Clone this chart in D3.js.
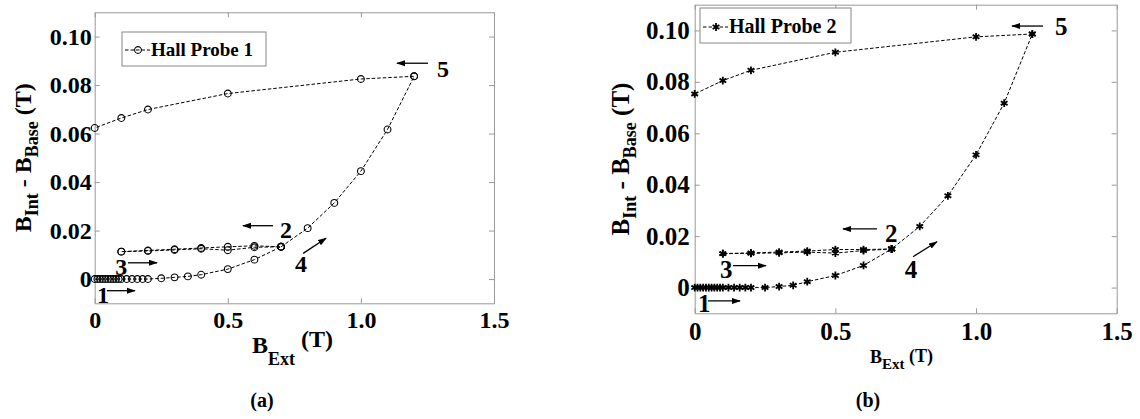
<!DOCTYPE html>
<html>
<head>
<meta charset="utf-8">
<script src="https://cdn.jsdelivr.net/npm/d3@7"></script>
<style>
body { margin: 0; background: #fff; }
svg { display: block; }
text { font-family: "Liberation Serif", "Times New Roman", serif; font-weight: bold; fill: #000; }
</style>
</head>
<body>
<svg id="chart" width="1140" height="419"></svg>
<script>
// B_Ext (T) at each step of the five legs of the loop
var bExtLeg1 = [0, 0.01, 0.02, 0.03, 0.04, 0.05, 0.06, 0.07, 0.08, 0.09, 0.1,
    0.12, 0.14, 0.16, 0.18, 0.2, 0.25, 0.3, 0.35, 0.4, 0.5, 0.6, 0.7];
var bExtLeg2 = [0.7, 0.6, 0.5, 0.4, 0.3, 0.2, 0.1];
var bExtLeg3 = [0.1, 0.2, 0.3, 0.4, 0.5, 0.6, 0.7];
var bExtLeg4 = [0.7, 0.8, 0.9, 1.0, 1.1, 1.2];
var bExtLeg5 = [1.2, 1.0, 0.5, 0.2, 0.1, 0];

// B_Int - B_Base (T), Hall probe 1
var probe1Leg1 = [0, 0, 0, 0, 0, 0, 0, 0, 0, 0, 0,
    0, 0, 0, 0, 0, 0.0003, 0.0007, 0.0011, 0.0018, 0.0041, 0.0080, 0.0133];
var probe1Leg2 = [0.0133, 0.0137, 0.0133, 0.0128, 0.0123, 0.0118, 0.0113];
var probe1Leg3 = [0.0113, 0.0116, 0.0120, 0.0125, 0.0119, 0.0131, 0.0133];
var probe1Leg4 = [0.0133, 0.0210, 0.0314, 0.0445, 0.0617, 0.0836];
var probe1Leg5 = [0.0836, 0.0825, 0.0765, 0.0699, 0.0664, 0.0623];

// B_Int - B_Base (T), Hall probe 2
var probe2Leg1 = [0, 0, 0, 0, 0, 0, 0, 0, 0, 0, 0,
    0, 0, 0, 0, 0, 0, 0.0004, 0.0009, 0.0023, 0.0047, 0.0086, 0.0150];
var probe2Leg2 = [0.0150, 0.0148, 0.0148, 0.0142, 0.0138, 0.0135, 0.0132];
var probe2Leg3 = [0.0132, 0.0133, 0.0135, 0.0138, 0.0134, 0.0144, 0.0150];
var probe2Leg4 = [0.0150, 0.0238, 0.0357, 0.0516, 0.0717, 0.0986];
var probe2Leg5 = [0.0986, 0.0975, 0.0915, 0.0845, 0.0805, 0.0753];

var xTicks = [0, 0.5, 1.0, 1.5];
var xTickLabels = ["0", "0.5", "1.0", "1.5"];
var yTicks = [0, 0.02, 0.04, 0.06, 0.08, 0.10];
var yTickLabels = ["0", "0.02", "0.04", "0.06", "0.08", "0.10"];
var stepNames = ["1", "2", "3", "4", "5"];
var seriesNames = ["Hall Probe 1", "Hall Probe 2"];
var panelNames = ["(a)", "(b)"];

function joinLegs(xLegs, yLegs) {
    var pts = [];
    xLegs.forEach(function (xs, i) {
        xs.forEach(function (x, j) { pts.push({ x: x, y: yLegs[i][j] }); });
    });
    return pts;
}

var svg = d3.select("#chart");
svg.append("defs").append("marker")
    .attr("id", "head")
    .attr("markerUnits", "userSpaceOnUse")
    .attr("markerWidth", 9).attr("markerHeight", 7)
    .attr("refX", 8).attr("refY", 3.5)
    .attr("orient", "auto")
    .append("path").attr("d", "M0,0.5 L9,3.5 L0,6.5 Z").attr("fill", "#000");

var HallPlot = (function () {
    function HallPlot(opts) {
        this.o = opts;
        this.x = d3.scaleLinear().domain([0, 1.5]).range([opts.left, opts.right]);
        this.y = d3.scaleLinear().domain([-0.01, 0.11]).range([opts.bottom, opts.top]);
        this.g = svg.append("g");
    }
    HallPlot.prototype.drawAxes = function () {
        var o = this.o, g = this.g;
        var fmtX = function (d, i) { return xTickLabels[i]; };
        var fmtY = function (d, i) { return yTickLabels[i]; };
        var axes = [
            { ax: d3.axisBottom(this.x).tickValues(xTicks).tickFormat(fmtX).tickPadding(o.xPad), t: "translate(0," + o.bottom + ")" },
            { ax: d3.axisTop(this.x).tickValues(xTicks).tickFormat(""), t: "translate(0," + o.top + ")" },
            { ax: d3.axisLeft(this.y).tickValues(yTicks).tickFormat(fmtY).tickPadding(o.yPad), t: "translate(" + o.left + ",0)" },
            { ax: d3.axisRight(this.y).tickValues(yTicks).tickFormat(""), t: "translate(" + o.right + ",0)" }
        ];
        axes.forEach(function (a) {
            var s = g.append("g").attr("transform", a.t)
                .call(a.ax.tickSizeInner(-5).tickSizeOuter(0));
            s.select(".domain").attr("stroke", "#999");
            s.selectAll(".tick line").attr("stroke", "#999");
            s.selectAll(".tick text")
                .attr("font-family", "Liberation Serif, serif")
                .attr("font-weight", "bold")
                .attr("font-size", o.tickFont).attr("fill", "#000");
        });
    };
    HallPlot.prototype.drawLabels = function () {
        var o = this.o, g = this.g;
        var yl = g.append("text")
            .attr("transform", "translate(" + o.yLabelX + "," + ((o.top + o.bottom) / 2) + ") rotate(-90)")
            .attr("text-anchor", "middle").attr("font-size", o.yLabelFont);
        yl.append("tspan").text("B");
        yl.append("tspan").text("Int").attr("font-size", o.ySubFont).attr("dy", 7);
        yl.append("tspan").text(" - B").attr("dy", -7);
        yl.append("tspan").text("Base").attr("font-size", o.ySubFont).attr("dy", 7);
        yl.append("tspan").text(" (T)").attr("dy", -7);

        var xl = g.append("text")
            .attr("x", o.xLabelX).attr("y", o.xLabelY).attr("font-size", o.xLabelFont);
        xl.append("tspan").text("B");
        xl.append("tspan").text("Ext").attr("font-size", o.xSubFont).attr("dy", o.xSubDy);
        xl.append("tspan").text(" (T)").attr("dy", o.xTDy);

        g.append("text").attr("x", o.panelX).attr("y", o.panelY)
            .attr("text-anchor", "middle").attr("font-size", 20).text(o.panel);
    };
    HallPlot.prototype.drawMarker = function (sel) {
        if (this.o.marker === "circle") {
            sel.append("circle").attr("r", 3.4)
                .attr("fill", "none").attr("stroke", "#000").attr("stroke-width", 1.1);
        } else {
            sel.append("path").attr("d", d3.symbol(d3.symbolAsterisk, 42)())
                .attr("fill", "none").attr("stroke", "#000").attr("stroke-width", 1.8);
        }
    };
    HallPlot.prototype.renderGraph = function (data) {
        var _this = this;
        var line = d3.line()
            .x(function (d) { return _this.x(d.x); })
            .y(function (d) { return _this.y(d.y); });
        this.g.append("path").datum(data)
            .attr("d", line)
            .attr("fill", "none").attr("stroke", "#000")
            .attr("stroke-width", 1).attr("stroke-dasharray", "3.5,2");
        var pts = this.g.selectAll("g.pt").data(data).enter().append("g")
            .attr("class", "pt")
            .attr("transform", function (d) { return "translate(" + _this.x(d.x) + "," + _this.y(d.y) + ")"; });
        this.drawMarker(pts);
    };
    HallPlot.prototype.drawSteps = function () {
        var _this = this, o = this.o;
        o.steps.forEach(function (s, i) {
            _this.g.append("text")
                .attr("x", _this.x(s.tx)).attr("y", _this.y(s.ty))
                .attr("font-size", o.stepFont).text(stepNames[i]);
            _this.g.append("line")
                .attr("x1", _this.x(s.a[0])).attr("y1", _this.y(s.a[1]))
                .attr("x2", _this.x(s.a[2])).attr("y2", _this.y(s.a[3]))
                .attr("stroke", "#000").attr("stroke-width", 1.3)
                .attr("marker-end", "url(#head)");
        });
    };
    HallPlot.prototype.drawLegend = function () {
        var o = this.o, L = o.legend;
        var lg = this.g.append("g");
        lg.append("rect").attr("x", L.x).attr("y", L.y).attr("width", L.w).attr("height", L.h)
            .attr("fill", "#fff").attr("stroke", "#888").attr("stroke-width", 1);
        lg.append("line").attr("x1", L.x + 3).attr("x2", L.x + 28)
            .attr("y1", L.sy).attr("y2", L.sy)
            .attr("stroke", "#000").attr("stroke-dasharray", "3.5,2");
        this.drawMarker(lg.append("g").attr("transform", "translate(" + (L.x + 16) + "," + L.sy + ")"));
        lg.append("text").attr("x", L.x + 29).attr("y", L.ty)
            .attr("font-size", L.font).text(o.name);
    };
    return HallPlot;
}());

var legsX = [bExtLeg1, bExtLeg2, bExtLeg3, bExtLeg4, bExtLeg5];

var plotA = new HallPlot({
    left: 94.7, right: 494, top: 12.3, bottom: 303.3,
    tickFont: 24, xPad: 8, yPad: 3,
    yLabelX: 31, yLabelFont: 24, ySubFont: 18,
    xLabelX: 252, xLabelY: 353, xLabelFont: 24, xSubFont: 18, xSubDy: 12, xTDy: -18,
    panel: panelNames[0], panelX: 262, panelY: 407,
    marker: "circle", name: seriesNames[0], stepFont: 24,
    legend: { x: 122, y: 32, w: 144, h: 34, sy: 50, ty: 56, font: 19 },
    steps: [
        { tx: 0.009, ty: -0.0099, a: [0.046, -0.0048, 0.151, -0.0048] },
        { tx: 0.696, ty: 0.0169, a: [0.670, 0.0220, 0.557, 0.0220] },
        { tx: 0.077, ty: 0.0017, a: [0.125, 0.0067, 0.234, 0.0067] },
        { tx: 0.752, ty: 0.0029, a: [0.783, 0.0106, 0.869, 0.0168] },
        { tx: 1.286, ty: 0.0833, a: [1.252, 0.0890, 1.136, 0.0890] }
    ]
});
plotA.drawAxes();
plotA.renderGraph(joinLegs(legsX, [probe1Leg1, probe1Leg2, probe1Leg3, probe1Leg4, probe1Leg5]));
plotA.drawSteps();
plotA.drawLegend();
plotA.drawLabels();

var plotB = new HallPlot({
    left: 694.7, right: 1116.7, top: 4.7, bottom: 313.3,
    tickFont: 25, xPad: 9, yPad: 5,
    yLabelX: 629, yLabelFont: 25, ySubFont: 18,
    xLabelX: 870, xLabelY: 363, xLabelFont: 18, xSubFont: 15, xSubDy: 6, xTDy: -7,
    panel: panelNames[1], panelX: 868, panelY: 407,
    marker: "star", name: seriesNames[1], stepFont: 25,
    legend: { x: 700, y: 8, w: 151, h: 35, sy: 27, ty: 33, font: 20 },
    steps: [
        { tx: 0.012, ty: -0.0095, a: [0.047, -0.0052, 0.161, -0.0052] },
        { tx: 0.676, ty: 0.0177, a: [0.648, 0.0228, 0.527, 0.0228] },
        { tx: 0.090, ty: 0.0037, a: [0.136, 0.0085, 0.253, 0.0085] },
        { tx: 0.747, ty: 0.0037, a: [0.776, 0.0120, 0.861, 0.0178] },
        { tx: 1.281, ty: 0.0982, a: [1.238, 0.1017, 1.128, 0.1017] }
    ]
});
plotB.drawAxes();
plotB.renderGraph(joinLegs(legsX, [probe2Leg1, probe2Leg2, probe2Leg3, probe2Leg4, probe2Leg5]));
plotB.drawSteps();
plotB.drawLegend();
plotB.drawLabels();
</script>
</body>
</html>
